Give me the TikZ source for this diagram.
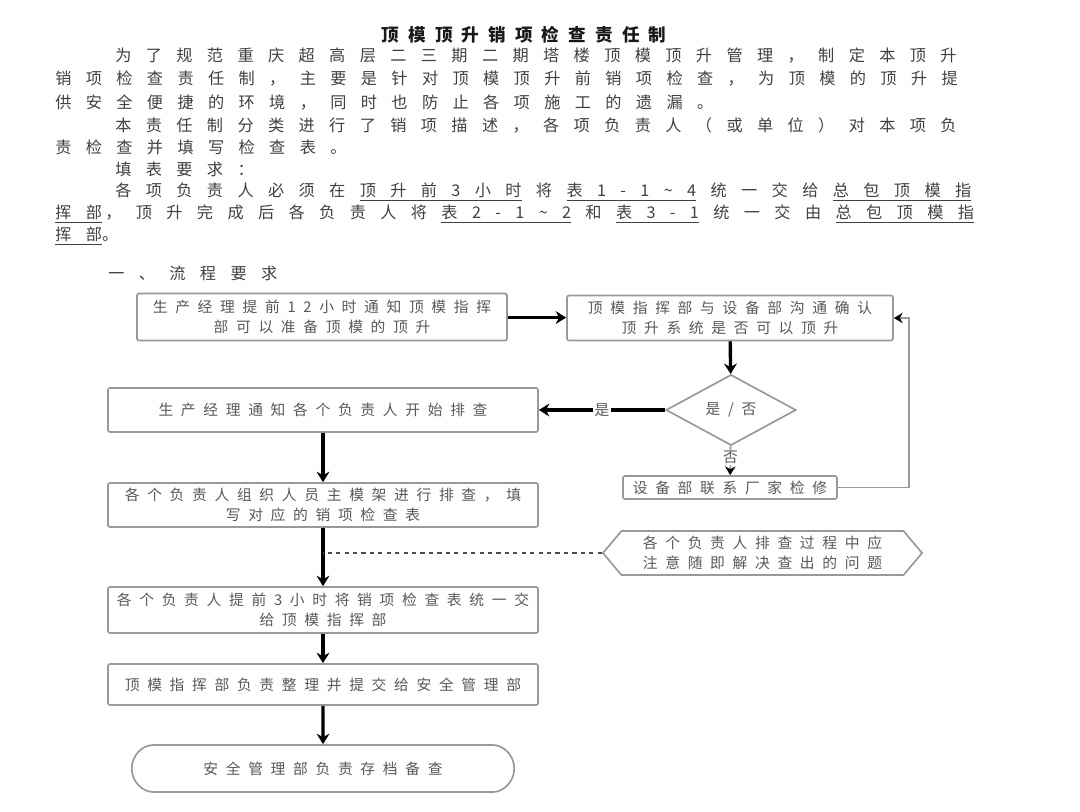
\documentclass[tikz,border=0pt]{standalone}
\usepackage{fontspec}
\usepackage{tikz, xcolor}
\usetikzlibrary{arrows.meta, calc, shapes.geometric, shapes.misc, shapes.symbols}
\newfontfamily\cjkbody[LetterSpace=89]{Noto Sans CJK SC}
\newfontfamily\cjkbox[LetterSpace=52]{Noto Sans CJK SC}
\newfontfamily\cjktitle[LetterSpace=52]{Noto Sans CJK SC}
\newcommand\gap{\hspace{0.89em}}

\tikzset{
    box/.style = {draw = gray!80, line width = 1.2pt, rounded corners = 1.5pt, fill = white,
        font = \cjkbox\fontsize{10.5}{14}\selectfont, text = black!65, align = center, inner sep = 2pt},
    lab/.style = {font = \cjkbox\fontsize{10.5}{14}\selectfont, text = black!65, inner sep = 1pt},
    flow/.style = {-{Stealth[length = 2.6mm, width = 3.2mm]}, line width = 2.4pt, color = black},
    thinflow/.style = {-{Stealth[length = 2.2mm, width = 2.6mm, black]}, line width = 1.1pt, color = gray!80},
    bodyline/.style = {anchor = west, inner sep = 0pt, font = \cjkbody\fontsize{11.5}{14}\selectfont, text = black!75}
}

\begin{document}
\begin{tikzpicture}[x = 0.025cm, y = -0.025cm]
    \useasboundingbox (0,0) rectangle (1080,811);
    % heading and intro text
    \node [font = \cjktitle\bfseries\fontsize{12.5}{14}\selectfont, text = black!90, inner sep = 0pt] (title) at (524,35) {顶模顶升销项检查责任制};
    \foreach \x/\y/\txt [count = \i] in {
        115/56/{为了规范重庆超高层二三期二期塔楼顶模顶升管理，制定本顶升},
        55/79/{销项检查责任制，主要是针对顶模顶升前销项检查，为顶模的顶升提},
        55/102/{供安全便捷的环境，同时也防止各项施工的遗漏。},
        115/125/{本责任制分类进行了销项描述，各项负责人（或单位）对本项负},
        55/147/{责检查并填写检查表。},
        115/169/{填表要求：},
        115/192/{各项负责人必须在\gap\underline{顶升前3小时}\gap 将\gap\underline{表1-1\textasciitilde4}\gap 统一交给\gap\underline{总包顶模指}},
        55/214/{\underline{挥部}\hspace{0.2em}，顶升完成后各负责人将\gap\underline{表2-1\textasciitilde2}\gap 和\gap\underline{表3-1}\gap 统一交由\gap\underline{总包顶模指}},
        55/236/{\underline{挥部}。},
        108/273/{一、流程要求}}
        \node [bodyline] (line\i) at (\x,\y) {\txt};

    % flow chart
    \node [box, minimum width = 9.25cm, minimum height = 1.175cm] (notify) at (322,317) {生产经理提前12小时通知顶模指挥\\部可以准备顶模的顶升};
    \node [box, minimum width = 8.15cm, minimum height = 1.125cm] (confirm) at (730,318) {顶模指挥部与设备部沟通确认\\顶升系统是否可以顶升};
    \node [diamond, draw = gray!80, line width = 1.2pt, fill = white, inner sep = 0pt,
        minimum width = 3.25cm, minimum height = 1.1cm, lab] (check) at (731,410) {是/否};
    \node [box, minimum width = 10.75cm, minimum height = 1.1cm] (start) at (323,410) {生产经理通知各个负责人开始排查};
    \node [box, minimum width = 5.35cm, minimum height = 0.575cm, inner sep = 0pt] (repair) at (730,487.5) {设备部联系厂家检修};
    \node [box, minimum width = 10.75cm, minimum height = 1.1cm] (inspect) at (323,505) {各个负责人组织人员主模架进行排查，填\\写对应的销项检查表};
    \node [box, signal, signal to = west and east, signal pointer angle = 100, rounded corners = 0pt,
        minimum width = 7.975cm, minimum height = 1.1cm] (note) at (762.5,553) {各个负责人排查过程中应\\注意随即解决查出的问题};
    \node [box, minimum width = 10.75cm, minimum height = 1.15cm] (submit) at (323,610) {各个负责人提前3小时将销项检查表统一交\\给顶模指挥部};
    \node [box, minimum width = 10.75cm, minimum height = 1.025cm] (collect) at (323,684.5) {顶模指挥部负责整理并提交给安全管理部};
    \node [box, rounded rectangle, minimum width = 9.7cm, minimum height = 1.175cm] (archive) at (323,768.5) {安全管理部负责存档备查};

    \draw [flow, line width = 2pt] (notify) -- (confirm);
    \draw [flow] (confirm) -- (check);
    \draw [flow] (check) -- node [lab, fill = white] {是} (start);
    \draw [thinflow] (check) -- node [lab, fill = white, pos = 0.4] {否} (repair);
    \draw [thinflow] (repair.east) -- ++(71,0) |- (confirm.east);
    \draw [flow] (start) -- (inspect);
    \draw [flow] (inspect) -- (submit);
    \draw [dashed, line width = 0.9pt, color = black!70] (note.west) -- (inspect.south |- note.west);
    \draw [flow] (submit) -- (collect);
    \draw [flow] (collect) -- (archive);
\end{tikzpicture}
\end{document}
